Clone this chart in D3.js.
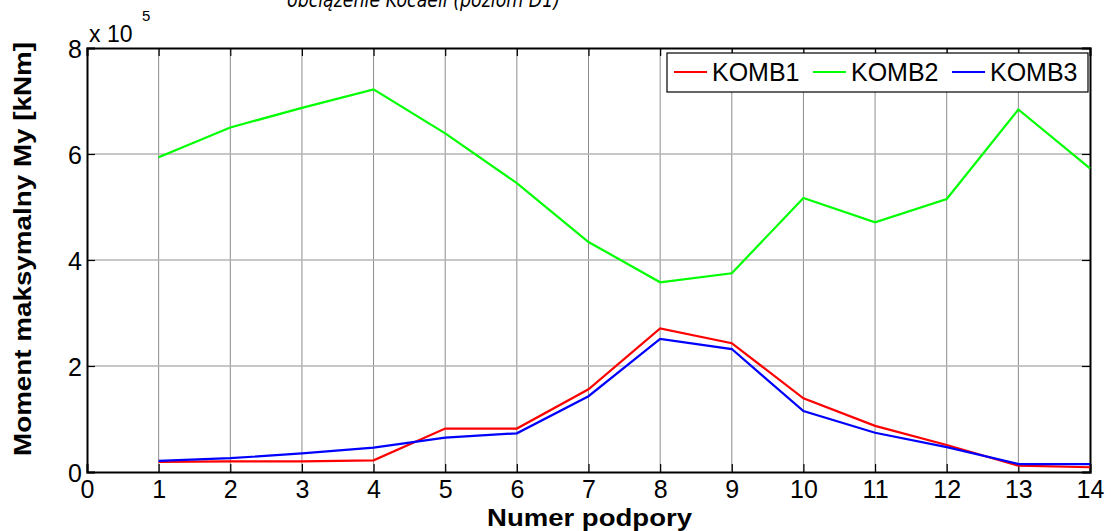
<!DOCTYPE html>
<html><head><meta charset="utf-8">
<script src="https://cdn.jsdelivr.net/npm/d3@7/dist/d3.min.js"></script>
<style>body{margin:0;background:#fff;}svg{display:block;}</style>
</head><body>
<script>
const supports = [1,2,3,4,5,6,7,8,9,10,11,12,13,14];
const komb1 = [0.19,0.20,0.20,0.22,0.82,0.82,1.56,2.71,2.43,1.39,0.87,0.51,0.12,0.09];
const komb2 = [5.94,6.50,6.87,7.22,6.39,5.45,4.34,3.58,3.75,5.17,4.71,5.15,6.84,5.73];
const komb3 = [0.21,0.26,0.35,0.46,0.65,0.73,1.43,2.51,2.32,1.15,0.74,0.47,0.15,0.15];
const seriesNames = ["KOMB1","KOMB2","KOMB3"];
const seriesColors = ["#ff0000","#00ff00","#0000ff"];
const xTicks = [0,1,2,3,4,5,6,7,8,9,10,11,12,13,14];
const yTicks = [0,2,4,6,8];

const W=1111,H=531;
const L=87,R=1090,T=48,B=472;
const svg=d3.select("body").append("svg").attr("width",W).attr("height",H);
const x=d3.scaleLinear().domain([0,14]).range([L,R]);
const y=d3.scaleLinear().domain([0,8]).range([B,T]);
const font="Arial, 'Liberation Sans', Helvetica, sans-serif";

// grid
svg.append("g").selectAll("line").data(xTicks.filter(d=>d>0&&d<14)).join("line")
  .attr("x1",d=>x(d)).attr("x2",d=>x(d)).attr("y1",T).attr("y2",B)
  .attr("stroke","#8c8c8c").attr("stroke-width",1);
svg.append("g").selectAll("line").data(yTicks.filter(d=>d>0&&d<8)).join("line")
  .attr("x1",L).attr("x2",R).attr("y1",d=>y(d)).attr("y2",d=>y(d))
  .attr("stroke","#b4b4b4").attr("stroke-width",1.5);

// axes
const xAx=d3.axisBottom(x).tickValues(xTicks).tickSize(-8).tickPadding(12).tickFormat(d3.format("d"));
const xg=svg.append("g").attr("transform",`translate(0,${B})`).call(xAx);
const xAxT=d3.axisTop(x).tickValues(xTicks).tickSize(-8).tickFormat("");
const xgT=svg.append("g").attr("transform",`translate(0,${T})`).call(xAxT);
const yAx=d3.axisLeft(y).tickValues(yTicks).tickSize(-8).tickPadding(5).tickFormat(d3.format("d"));
const yg=svg.append("g").attr("transform",`translate(${L},0)`).call(yAx);
const yAxR=d3.axisRight(y).tickValues(yTicks).tickSize(-8).tickFormat("");
const ygR=svg.append("g").attr("transform",`translate(${R},0)`).call(yAxR);
[xg,xgT,yg,ygR].forEach(g=>{
  g.select(".domain").attr("stroke","#000").attr("stroke-width",2);
  g.selectAll(".tick line").attr("stroke","#000").attr("stroke-width",1.2);
  g.selectAll("text").attr("font-family",font).attr("font-size",25).attr("fill","#000");
});
xg.selectAll("text").attr("dy","0.55em");
yg.selectAll("text").attr("dy","0.36em");

// lines
const data=[komb1,komb2,komb3];
const line=d3.line().x((d,i)=>x(supports[i])).y(d=>y(d));
svg.append("g").selectAll("path").data(data).join("path")
  .attr("d",line).attr("fill","none")
  .attr("stroke",(d,i)=>seriesColors[i]).attr("stroke-width",2.2);

// exponent label
svg.append("text").attr("x",89).attr("y",42).attr("font-family",font).attr("font-size",23).text("x 10");
svg.append("text").attr("x",142).attr("y",21).attr("font-family",font).attr("font-size",15).text("5");

// legend
const lg=svg.append("g");
lg.append("rect").attr("x",667).attr("y",53).attr("width",421).attr("height",39)
  .attr("fill","#fff").attr("stroke","#000").attr("stroke-width",1.2);
const lx=[674,813,952];
seriesNames.forEach((n,i)=>{
  lg.append("line").attr("x1",lx[i]).attr("x2",lx[i]+33).attr("y1",72).attr("y2",72)
    .attr("stroke",seriesColors[i]).attr("stroke-width",2);
  lg.append("text").attr("x",lx[i]+38).attr("y",81).attr("font-family",font)
    .attr("font-size",25).text(n);
});

// axis titles
svg.append("text").attr("x",487).attr("y",526).attr("font-family",font).attr("font-weight","bold")
  .attr("font-size",24).attr("textLength",205).attr("lengthAdjust","spacingAndGlyphs").text("Numer podpory");
svg.append("text").attr("transform","translate(31,456) rotate(-90)").attr("font-family",font)
  .attr("font-weight","bold").attr("font-size",24).attr("textLength",414)
  .attr("lengthAdjust","spacingAndGlyphs").text("Moment maksymalny My [kNm]");

// title (partially cropped at the top edge, as in the reference)
svg.append("text").attr("x",287).attr("y",7).attr("font-family","Verdana, 'DejaVu Sans', sans-serif")
  .attr("font-style","italic").attr("font-size",21).attr("textLength",273)
  .attr("lengthAdjust","spacingAndGlyphs").text("obciążenie Kocaeli (poziom D1)");
</script>
</body></html>
